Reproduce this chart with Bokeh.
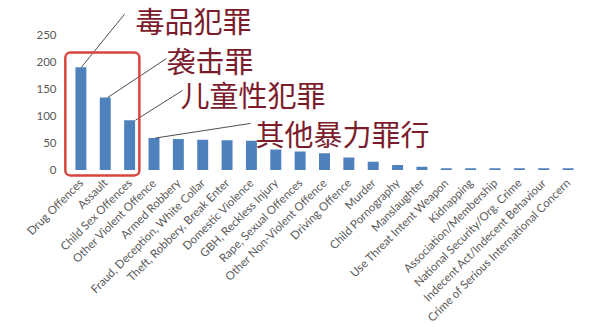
import math
from bokeh.plotting import figure
from bokeh.models import FactorRange, Range1d, FixedTicker, BoxAnnotation, ColumnDataSource
from bokeh.core.properties import value
from bokeh.embed import file_html
from bokeh.resources import INLINE

# ---- data ----
categories = [
    "Drug Offences", "Assault", "Child Sex Offences", "Other Violent Offence",
    "Armed Robbery", "Fraud, Deception, White Collar", "Theft, Robbery, Break Enter",
    "Domestic Violence", "GBH, Reckless Injury", "Rape, Sexual Offences",
    "Other Non-Violent Offence", "Driving Offence", "Murder", "Child Pornography",
    "Manslaughter", "Use Threat Intent Weapon", "Kidnapping", "Association/Membership",
    "National Security/Org. Crime", "Indecent Act/Indecent Behaviour",
    "Crime of Serious International Concern",
]
counts = [190, 134, 92, 59, 57, 56, 55, 54, 38, 34, 31, 23, 15, 9, 6, 3, 3, 3, 3, 3, 3]
y_ticks = [0, 50, 100, 150, 200, 250]

callout_texts = ["毒品犯罪", "袭击罪", "儿童性犯罪", "其他暴力罪行"]
callout_bar_index = [0, 1, 2, 3]

# ---- annotation layout (positions in data units) ----
text_x = [2.74, 4.01, 4.59, 7.67]
text_y = [278, 204, 140.5, 67.5]
line_x0 = [2.29, 4.01, 4.67, 7.46]
line_y0 = [288, 206, 147, 86]
line_dx = [0.02, 0.1, 0.24, 0.06]   # offset of leader end from bar centre

src = ColumnDataSource(dict(cat=categories, val=counts))

p = figure(
    frame_width=532, frame_height=177,
    x_range=FactorRange(factors=categories, range_padding=0.42, range_padding_units="absolute"),
    y_range=Range1d(-14, 313.4),
    output_backend="svg", toolbar_location=None,
    min_border_left=58, min_border_right=9, min_border_top=0, min_border_bottom=150,
)
p.outline_line_color = None
p.background_fill_color = "white"
p.border_fill_color = "white"
p.xgrid.grid_line_color = None
p.ygrid.grid_line_color = None

p.vbar(x="cat", top="val", bottom=0, width=0.45, source=src,
       fill_color="#4F81BD", line_color=None)

# y axis
p.yaxis.ticker = FixedTicker(ticks=y_ticks)
p.yaxis.axis_line_color = None
p.yaxis.major_tick_line_color = None
p.yaxis.minor_tick_line_color = None
p.yaxis.major_tick_out = 0
p.yaxis.major_tick_in = 0
p.yaxis.major_label_standoff = 2
p.yaxis.major_label_text_font = "Lato"
p.yaxis.major_label_text_font_size = "11.5px"
p.yaxis.major_label_text_color = "#595959"

# x axis
p.xaxis.axis_line_color = None
p.xaxis.major_tick_line_color = None
p.xaxis.minor_tick_line_color = None
p.xaxis.major_tick_out = 0
p.xaxis.major_tick_in = 0
p.xaxis.major_label_standoff = 3
p.xaxis.major_label_orientation = math.pi / 4
p.xaxis.major_label_text_font = "Lato"
p.xaxis.major_label_text_font_size = "11.5px"
p.xaxis.major_label_text_color = "#595959"

# red highlight box around first three bars
box = BoxAnnotation(left=-0.14, right=2.9, bottom=-10.2, top=217,
                    fill_alpha=0, line_color="#D9453D", line_alpha=1.0, line_width=2.5,
                    border_radius=5)
p.add_layout(box)

# leader lines
end_x = [i + 0.5 + d for i, d in zip(callout_bar_index, line_dx)]
end_y = [counts[i] for i in callout_bar_index]
p.segment(x0=line_x0, y0=line_y0, x1=end_x, y1=end_y,
          line_color="#222222", line_width=0.8)

# callout texts
p.text(x=text_x, y=text_y, text=callout_texts,
       text_font=value("Noto Sans CJK SC"), text_font_size="29px",
       text_color="#7B1C2C", text_baseline="middle", text_align="left")

open("out.html", "w").write(file_html(p, INLINE))
